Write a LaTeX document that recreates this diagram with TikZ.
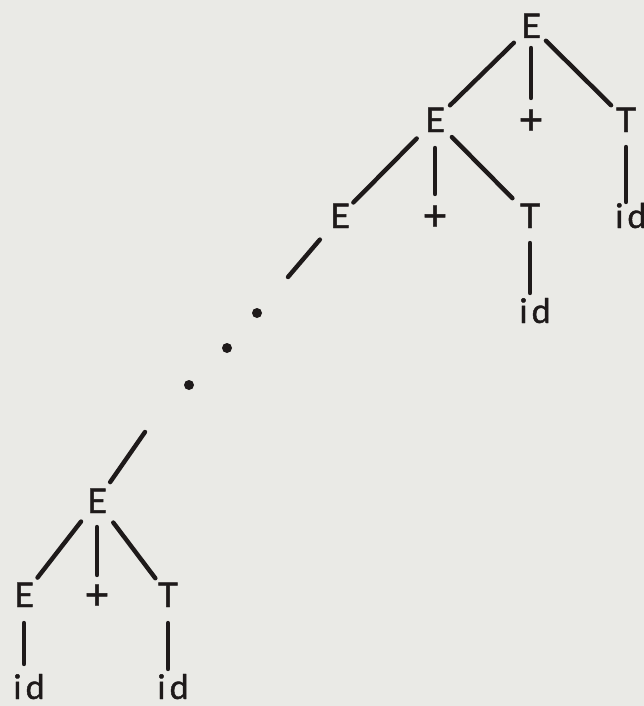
\documentclass[tikz,border=0pt]{standalone}
\usepackage{fontspec}
\setmainfont{Lato}
\newfontfamily\symfont{Lato}[FakeBold=1.2]
\definecolor{bgc}{RGB}{234,234,230}
\definecolor{ink}{RGB}{30,26,26}
\begin{document}
\begin{tikzpicture}[x=1pt,y=-1pt,
  sym/.style={anchor=base,inner sep=0pt,text height=24pt,text depth=0pt,
    font=\symfont\fontsize{34}{38}\selectfont,text=ink},
  plus/.style={sym,font=\symfont\fontsize{42}{46}\selectfont},
  br/.style={draw=ink,line width=4.4pt,line cap=round,shorten <=24pt,shorten >=21pt},
  dotmark/.style={circle,fill=ink,inner sep=0pt,minimum size=10pt}]
\fill[bgc] (0,0) rectangle (644,706);
\useasboundingbox (0,0) rectangle (644,706);
% top part
\node[sym] (E1) at (531,38) {E};
\node[sym] (E2) at (435,132) {E};
\node[plus] (p2) at (531,134) {+};
\node[sym] (T2) at (626,132) {T};
\node[sym] (E3) at (340,228) {E};
\node[plus] (p3) at (435,230) {+};
\node[sym] (T3) at (530,228) {T};
\node[sym,anchor=base west] (id2) at (615,228) {i\hspace{4pt}d};
\node[sym] (id3) at (535,323) {i\hspace{4pt}d};
% bottom part
\node[sym] (E4) at (97,513) {E};
\node[sym] (E5) at (24,607) {E};
\node[plus] (p5) at (97,609) {+};
\node[sym] (T5) at (168,607) {T};
\node[sym] (id5a) at (29,699) {i\hspace{4pt}d};
\node[sym] (id5b) at (173,699) {i\hspace{4pt}d};
% free ends and dots
\coordinate (c1) at (288,277);
\coordinate (c2) at (145,432);
\node[dotmark] (d1) at (257,313) {};
\node[dotmark] (d2) at (227,348) {};
\node[dotmark] (d3) at (189,385) {};
% connectors
\draw[br] (E1.center) -- (E2.center);
\draw[br,shorten <=22pt,shorten >=24pt] (E1.center) -- (p2.center);
\draw[br,shorten <=21pt] (E1.center) -- (T2.center);
\draw[br,shorten <=26pt,shorten >=19pt] (E2.center) -- (E3.center);
\draw[br,shorten <=28pt,shorten >=24pt] (E2.center) -- (p3.center);
\draw[br,shorten >=25pt] (E2.center) -- (T3.center);
\draw[br,shorten <=27pt,shorten >=14pt] (T2.center) -- (T2.center |- id2.center);
\draw[br,shorten <=27pt,shorten >=18pt] (T3.center) -- (T3.center |- id3.center);
\draw[br,shorten <=31pt,shorten >=0pt] (E3.center) -- (c1);
\draw[br,shorten <=0pt,shorten >=23pt] (c2) -- (E4.center);
\draw[br,shorten <=26pt,shorten >=22pt] (E4.center) -- (E5.center);
\draw[br,shorten <=26pt,shorten >=22pt] (E4.center) -- (p5.center);
\draw[br,shorten <=27pt,shorten >=21pt] (E4.center) -- (T5.center);
\draw[br,shorten <=28pt,shorten >=23pt] (E5.center) -- (E5.center |- id5a.center);
\draw[br,shorten <=28pt,shorten >=18pt] (T5.center) -- (T5.center |- id5b.center);
\end{tikzpicture}
\end{document}
